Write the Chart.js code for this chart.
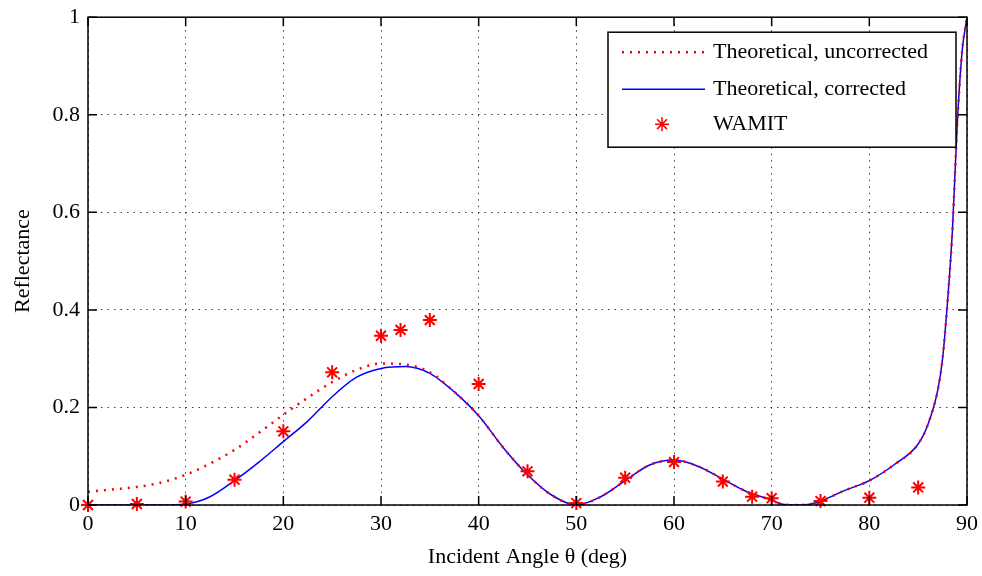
<!DOCTYPE html>
<html>
<head>
<meta charset="utf-8">
<script src="https://cdn.jsdelivr.net/npm/chart.js@4.4.1/dist/chart.umd.min.js"></script>
<style>
    html, body { margin: 0; padding: 0; background: #fff; overflow: hidden; }
    #grafico { display: block; margin-top: -4px; }
</style>
</head>
<body>
<canvas id="grafico" width="984" height="580"></canvas>
<script>
// Curvas teoricas (angulo en grados, reflectancia)
const angulos = [0, 2.5, 5, 7.5, 10, 12.5, 15, 17.5, 20, 22.5, 25, 27.5, 30, 32.5, 35, 37.5, 40, 42.5, 45, 47.5, 50,
    52.5, 55, 57.5, 60, 62.5, 65, 67.5, 70, 71, 72.5, 74, 75, 77.5, 80, 82.5, 85, 86, 87, 87.5, 88, 88.5, 89, 89.5, 90];
const sinCorregir = [0.027, 0.032, 0.037, 0.046, 0.062, 0.085, 0.113, 0.148, 0.185, 0.22, 0.252, 0.277, 0.29, 0.288, 0.272, 0.232, 0.183, 0.118, 0.062, 0.02, 0,
    0.017, 0.05, 0.082, 0.092, 0.079, 0.053, 0.027, 0.01, 0.002, 0, 0.002, 0.008, 0.03, 0.05, 0.082, 0.125, 0.165, 0.235, 0.3, 0.415, 0.56, 0.78, 0.93, 1.0];
const corregido = [0, 0, 0, 0, 0.002, 0.017, 0.05, 0.088, 0.13, 0.172, 0.222, 0.262, 0.28, 0.284, 0.27, 0.232, 0.183, 0.118, 0.062, 0.02, 0,
    0.017, 0.05, 0.082, 0.092, 0.079, 0.053, 0.027, 0.01, 0.002, 0, 0.002, 0.008, 0.03, 0.05, 0.082, 0.125, 0.165, 0.235, 0.3, 0.415, 0.56, 0.78, 0.93, 1.0];

// Resultados WAMIT
const angulosWamit = [0, 5, 10, 15, 20, 25, 30, 32, 35, 40, 45, 50, 55, 60, 65, 68, 70, 75, 80, 85];
const valoresWamit = [0, 0.002, 0.007, 0.052, 0.151, 0.272, 0.347, 0.359, 0.379, 0.248, 0.069, 0.004, 0.056, 0.088, 0.048, 0.017, 0.014, 0.008, 0.015, 0.036];

const ticksX = [0, 10, 20, 30, 40, 50, 60, 70, 80, 90];
const ticksY = [0, 0.2, 0.4, 0.6, 0.8, 1];

const fuente = '"Liberation Serif", "Times New Roman", serif';

const puntos = (xs, ys) => xs.map((x, i) => ({ x: x, y: ys[i] }));

// Caja de ejes, marcas interiores y leyenda estilo MATLAB
const marcoEjes = {
    id: 'marcoEjes',
    afterDatasetsDraw(chart) {
        const { ctx, chartArea: a, scales } = chart;
        ctx.save();
        ctx.strokeStyle = '#000';
        ctx.lineWidth = 1.5;
        ctx.beginPath();
        ticksX.forEach(v => {
            const px = scales.x.getPixelForValue(v);
            ctx.moveTo(px, a.bottom); ctx.lineTo(px, a.bottom - 9);
            ctx.moveTo(px, a.top); ctx.lineTo(px, a.top + 9);
        });
        ticksY.forEach(v => {
            const py = scales.y.getPixelForValue(v);
            ctx.moveTo(a.left, py); ctx.lineTo(a.left + 9, py);
            ctx.moveTo(a.right, py); ctx.lineTo(a.right - 9, py);
        });
        ctx.stroke();
        ctx.strokeRect(a.left, a.top, a.right - a.left, a.bottom - a.top);

        // leyenda
        const lx = a.right - 359, ly = a.top + 15, lw = 348, lh = 115;
        ctx.fillStyle = '#fff';
        ctx.fillRect(lx, ly, lw, lh);
        ctx.lineWidth = 1.5;
        ctx.strokeRect(lx, ly, lw, lh);
        const filas = [ly + 20, ly + 57, ly + 92];
        const sets = chart.data.datasets;
        ctx.font = '22px ' + fuente;
        ctx.textBaseline = 'middle';
        ctx.fillStyle = '#000';
        sets.forEach((ds, i) => {
            const y = filas[i];
            ctx.save();
            ctx.strokeStyle = ds.borderColor;
            if (ds.showLine === false) {
                ctx.lineWidth = 1.5;
                Chart.helpers.drawPoint(ctx, { pointStyle: 'star', radius: 7, borderWidth: 1.5 }, lx + 54, y);
            } else {
                ctx.lineWidth = ds.borderWidth;
                ctx.setLineDash(ds.borderDash || []);
                ctx.beginPath();
                ctx.moveTo(lx + 14, y); ctx.lineTo(lx + 97, y);
                ctx.stroke();
            }
            ctx.restore();
            ctx.fillText(ds.label, lx + 105, y);
        });
        ctx.restore();
    }
};

new Chart(document.getElementById('grafico'), {
    type: 'line',
    data: {
        datasets: [
            {
                label: 'Theoretical, uncorrected',
                data: puntos(angulos, sinCorregir),
                borderColor: '#ff0000',
                borderWidth: 2.5,
                borderDash: [2, 6],
                pointRadius: 0,
                cubicInterpolationMode: 'monotone',
                order: 1
            },
            {
                label: 'Theoretical, corrected',
                data: puntos(angulos, corregido),
                borderColor: '#0000ff',
                borderWidth: 1.5,
                pointRadius: 0,
                cubicInterpolationMode: 'monotone',
                order: 2
            },
            {
                label: 'WAMIT',
                data: puntos(angulosWamit, valoresWamit),
                showLine: false,
                borderColor: '#ff0000',
                backgroundColor: '#ff0000',
                pointStyle: 'star',
                pointRadius: 7,
                pointBorderWidth: 2,
                clip: false,
                order: 0
            }
        ]
    },
    options: {
        responsive: false,
        animation: false,
        layout: { padding: { top: 13, right: 13, left: 0, bottom: 0 } },
        plugins: {
            legend: { display: false },
            tooltip: { enabled: false }
        },
        scales: {
            x: {
                type: 'linear',
                min: 0,
                max: 90,
                afterFit: s => { s.height = 71; },
                afterBuildTicks: s => { s.ticks = ticksX.map(v => ({ value: v })); },
                ticks: { color: '#000', padding: 6, font: { family: fuente, size: 22 }, callback: v => String(v) },
                grid: { color: 'rgba(0,0,0,0.75)', lineWidth: 1, drawTicks: false },
                border: { display: false, dash: [1.5, 5] },
                title: { display: true, text: 'Incident Angle θ (deg)', color: '#000', padding: { top: 0, bottom: 6 }, font: { family: fuente, size: 22 } }
            },
            y: {
                min: 0,
                max: 1,
                afterFit: s => { s.width = 88; },
                afterBuildTicks: s => { s.ticks = ticksY.map(v => ({ value: v })); },
                ticks: { color: '#000', padding: 8, font: { family: fuente, size: 22 }, callback: v => String(v) },
                grid: { color: 'rgba(0,0,0,0.75)', lineWidth: 1, drawTicks: false },
                border: { display: false, dash: [1.5, 5] },
                title: { display: true, text: 'Reflectance', color: '#000', padding: { top: 10, bottom: 0 }, font: { family: fuente, size: 22 } }
            }
        }
    },
    plugins: [marcoEjes]
});
</script>
</body>
</html>
